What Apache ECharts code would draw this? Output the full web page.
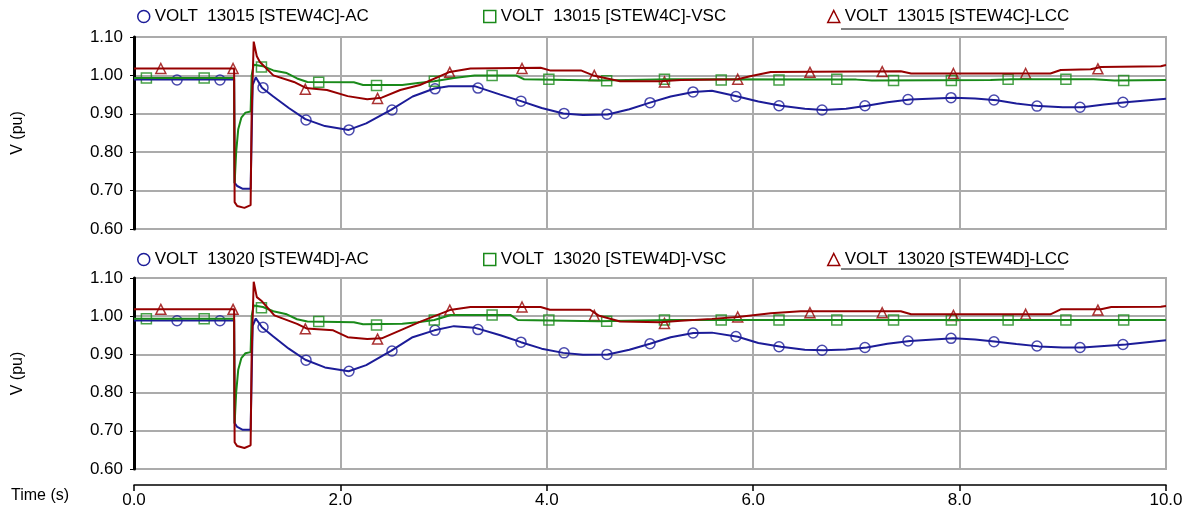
<!DOCTYPE html>
<html>
<head>
<meta charset="utf-8">
<script src="https://cdn.jsdelivr.net/npm/echarts@6/dist/echarts.min.js"></script>
<style>
  html, body { margin: 0; padding: 0; background: #fff; }
  #main { width: 1186px; height: 510px; }
</style>
</head>
<body>
<div id="main"></div>
<script>
// 曲线数据 [时间 s, 电压 pu]
var acTop = [[0,0.989],[0.97,0.989],[0.975,0.72],[1.0,0.712],[1.05,0.705],[1.13,0.705],[1.15,0.975],[1.18,0.995],[1.24,0.968],[1.35,0.945],[1.5,0.915],[1.66,0.886],[1.85,0.868],[2.08,0.858],[2.25,0.875],[2.49,0.91],[2.7,0.945],[2.91,0.966],[3.05,0.972],[3.3,0.972],[3.55,0.95],[3.75,0.933],[3.95,0.915],[4.16,0.901],[4.35,0.897],[4.59,0.898],[4.8,0.912],[5.0,0.929],[5.2,0.945],[5.42,0.957],[5.6,0.96],[5.85,0.945],[6.05,0.932],[6.27,0.921],[6.5,0.913],[6.68,0.91],[6.9,0.913],[7.1,0.921],[7.3,0.93],[7.52,0.937],[7.94,0.942],[8.15,0.94],[8.36,0.935],[8.55,0.927],[8.77,0.92],[9.0,0.917],[9.19,0.917],[9.4,0.924],[9.61,0.93],[10,0.939]];
var vscTop = [[0,0.993],[0.97,0.993],[0.975,0.72],[0.99,0.8],[1.01,0.86],[1.04,0.89],[1.08,0.903],[1.13,0.906],[1.14,1.0],[1.16,1.028],[1.25,1.024],[1.35,1.013],[1.48,1.006],[1.58,0.992],[1.68,0.983],[2.13,0.982],[2.22,0.975],[2.6,0.975],[2.75,0.98],[2.91,0.985],[3.1,0.993],[3.3,1.0],[3.7,1.0],[3.78,0.99],[4.5,0.987],[5.2,0.99],[7.0,0.989],[7.15,0.987],[8.3,0.988],[8.5,0.99],[9.3,0.99],[9.5,0.987],[10,0.988]];
var lccTop = [[0,1.018],[0.97,1.018],[0.975,0.67],[1.0,0.66],[1.07,0.655],[1.13,0.662],[1.14,0.9],[1.16,1.088],[1.19,1.05],[1.22,1.035],[1.35,1.0],[1.55,0.983],[1.67,0.967],[1.87,0.962],[2.07,0.946],[2.26,0.938],[2.4,0.942],[2.58,0.962],[2.77,0.975],[3.06,1.009],[3.26,1.018],[3.94,1.02],[4.03,1.013],[4.33,1.013],[4.45,1.0],[4.71,0.985],[5.1,0.985],[5.3,0.988],[5.85,0.99],[5.97,0.998],[6.17,1.009],[7.43,1.011],[7.53,1.005],[8.88,1.005],[8.98,1.014],[9.27,1.016],[9.37,1.022],[9.95,1.024],[10,1.027]];

var acBot = [[0,0.989],[0.97,0.989],[0.975,0.72],[1.0,0.71],[1.05,0.703],[1.13,0.703],[1.15,0.975],[1.18,0.994],[1.24,0.971],[1.35,0.947],[1.5,0.915],[1.66,0.886],[1.85,0.866],[2.08,0.856],[2.25,0.872],[2.49,0.909],[2.7,0.945],[2.91,0.963],[3.1,0.974],[3.3,0.97],[3.55,0.95],[3.75,0.932],[3.95,0.915],[4.16,0.904],[4.35,0.899],[4.59,0.9],[4.8,0.912],[5.0,0.928],[5.2,0.945],[5.42,0.956],[5.6,0.957],[5.85,0.946],[6.05,0.93],[6.27,0.92],[6.5,0.912],[6.68,0.911],[6.9,0.913],[7.1,0.918],[7.3,0.928],[7.52,0.935],[7.94,0.942],[8.15,0.939],[8.36,0.933],[8.55,0.927],[8.77,0.921],[9.0,0.918],[9.19,0.918],[9.4,0.922],[9.61,0.926],[10,0.937]];
var vscBot = [[0,0.993],[0.97,0.993],[0.975,0.72],[0.99,0.8],[1.01,0.86],[1.04,0.89],[1.08,0.903],[1.13,0.906],[1.14,1.0],[1.16,1.028],[1.25,1.024],[1.35,1.013],[1.48,1.005],[1.58,0.992],[1.68,0.986],[2.13,0.984],[2.22,0.979],[2.6,0.98],[2.75,0.984],[2.91,0.99],[3.07,1.003],[3.65,1.003],[3.72,0.99],[4.5,0.987],[5.2,0.99],[10,0.99]];
var lccBot = [[0,1.018],[0.97,1.018],[0.975,0.67],[1.0,0.66],[1.07,0.655],[1.13,0.662],[1.14,0.9],[1.16,1.09],[1.19,1.05],[1.24,1.039],[1.36,1.002],[1.58,0.98],[1.67,0.968],[1.93,0.963],[2.07,0.945],[2.26,0.94],[2.4,0.942],[2.58,0.963],[2.77,0.985],[3.06,1.016],[3.26,1.024],[3.94,1.024],[4.03,1.017],[4.42,1.017],[4.5,1.002],[4.71,0.986],[5.1,0.984],[5.3,0.988],[5.6,0.993],[5.85,0.998],[6.17,1.008],[6.46,1.013],[7.43,1.013],[7.53,1.005],[8.88,1.005],[8.98,1.018],[9.37,1.018],[9.47,1.024],[9.95,1.025],[10,1.027]];

// 标记点
var acTopMarks = [[0.417,0.988],[0.833,0.988],[1.25,0.968],[1.667,0.884],[2.083,0.858],[2.5,0.91],[2.917,0.965],[3.333,0.967],[3.75,0.933],[4.167,0.901],[4.583,0.899],[5.0,0.929],[5.417,0.957],[5.833,0.945],[6.25,0.921],[6.667,0.91],[7.083,0.921],[7.5,0.937],[7.917,0.942],[8.333,0.936],[8.75,0.92],[9.167,0.917],[9.583,0.93]];
var vscTopMarks = [[0.12,0.993],[0.68,0.993],[1.235,1.022],[1.79,0.982],[2.35,0.974],[2.91,0.985],[3.47,1.0],[4.02,0.99],[4.58,0.986],[5.14,0.99],[5.69,0.988],[6.25,0.988],[6.81,0.99],[7.36,0.987],[7.92,0.987],[8.47,0.99],[9.03,0.99],[9.59,0.987]];
var lccTopMarks = [[0.26,1.018],[0.96,1.018],[1.66,0.964],[2.36,0.94],[3.06,1.008],[3.76,1.018],[4.46,1.0],[5.14,0.983],[5.85,0.99],[6.55,1.008],[7.25,1.01],[7.94,1.005],[8.64,1.005],[9.34,1.017]];

var acBotMarks = [[0.417,0.988],[0.833,0.988],[1.25,0.971],[1.667,0.885],[2.083,0.856],[2.5,0.909],[2.917,0.963],[3.333,0.965],[3.75,0.932],[4.167,0.904],[4.583,0.9],[5.0,0.928],[5.417,0.956],[5.833,0.947],[6.25,0.92],[6.667,0.911],[7.083,0.918],[7.5,0.935],[7.917,0.942],[8.333,0.933],[8.75,0.922],[9.167,0.918],[9.583,0.926]];
var vscBotMarks = [[0.12,0.993],[0.68,0.993],[1.235,1.022],[1.79,0.986],[2.35,0.977],[2.91,0.99],[3.47,1.003],[4.02,0.99],[4.58,0.987],[5.14,0.99],[5.69,0.99],[6.25,0.99],[6.81,0.99],[7.36,0.99],[7.92,0.99],[8.47,0.99],[9.03,0.99],[9.59,0.99]];
var lccBotMarks = [[0.26,1.018],[0.96,1.018],[1.66,0.967],[2.36,0.94],[3.06,1.016],[3.76,1.024],[4.46,1.002],[5.14,0.981],[5.85,0.998],[6.55,1.009],[7.25,1.009],[7.94,1.002],[8.64,1.005],[9.34,1.016]];

var namesTop = ['VOLT  13015 [STEW4C]-AC', 'VOLT  13015 [STEW4C]-VSC', 'VOLT  13015 [STEW4C]-LCC'];
var namesBot = ['VOLT  13020 [STEW4D]-AC', 'VOLT  13020 [STEW4D]-VSC', 'VOLT  13020 [STEW4D]-LCC'];
var colors = ['#1c1c98', '#1a8a1a', '#960000'];
var symbols = ['circle', 'rect', 'triangle'];

var FONT = "'Liberation Sans', Arial, sans-serif";
var GRIDC = '#ababab';

function xAx(idx, showLabel) {
  return {
    type: 'value', gridIndex: idx, min: 0, max: 10, interval: 2,
    offset: showLabel ? 16 : 0,
    axisLine: { show: showLabel, onZero: false, lineStyle: { color: '#000', width: 1.5 } },
    axisTick: { show: showLabel, length: 6, lineStyle: { color: '#000', width: 1.5 } },
    axisLabel: { show: showLabel, color: '#000', fontSize: 17, fontFamily: FONT, margin: 7,
      formatter: function (v) { return v.toFixed(1); } },
    splitLine: { show: true, lineStyle: { color: GRIDC, width: 2 } }
  };
}
function yAx(idx) {
  return {
    type: 'value', gridIndex: idx, min: 0.6, max: 1.1, interval: 0.1,
    name: 'V (pu)', nameLocation: 'middle', nameGap: 108, nameRotate: 90,
    nameTextStyle: { color: '#000', fontSize: 16, fontFamily: FONT },
    axisLine: { show: true, onZero: false, lineStyle: { color: '#000', width: 3 } },
    axisTick: { show: true, length: 4, lineStyle: { color: '#000', width: 1 } },
    axisLabel: { color: '#000', fontSize: 17, fontFamily: FONT, margin: 11,
      formatter: function (v) { return v.toFixed(2); } },
    splitLine: { show: true, lineStyle: { color: GRIDC, width: 2 } }
  };
}

var legendLeft = [137, 483, 827];
var legends = [];
var series = [];
[[namesTop, 8, 0, [acTop, vscTop, lccTop], [acTopMarks, vscTopMarks, lccTopMarks]],
 [namesBot, 251, 1, [acBot, vscBot, lccBot], [acBotMarks, vscBotMarks, lccBotMarks]]].forEach(function (p) {
  var names = p[0];
  for (var i = 0; i < 3; i++) {
    legends.push({
      left: legendLeft[i], top: p[1], padding: 0, selectedMode: false,
      itemWidth: 12, itemHeight: 12,
      textStyle: { color: '#000', fontSize: 17, fontFamily: FONT },
      data: [{ name: names[i], icon: symbols[i],
        itemStyle: { color: '#fff', borderColor: colors[i], borderWidth: 1.5 } }]
    });
    series.push({
      name: names[i], type: 'line', xAxisIndex: p[2], yAxisIndex: p[2],
      data: p[3][i], showSymbol: false, symbol: 'none',
      lineStyle: { color: colors[i], width: 2 }, itemStyle: { color: colors[i] }
    });
    series.push({
      name: names[i], type: 'scatter', xAxisIndex: p[2], yAxisIndex: p[2],
      data: p[4][i], symbol: symbols[i], symbolSize: 10,
      itemStyle: { color: 'transparent', borderColor: colors[i], borderWidth: 1.5 }
    });
  }
});

var myChart = echarts.init(document.getElementById('main'));
var option = {
  animation: false,
  backgroundColor: '#fff',
  grid: [
    { left: 134, right: 20, top: 37, height: 192, show: true, borderColor: GRIDC, borderWidth: 2 },
    { left: 134, right: 20, top: 278, height: 191, show: true, borderColor: GRIDC, borderWidth: 2 }
  ],
  legend: legends,
  xAxis: [xAx(0, false), xAx(1, true)],
  yAxis: [yAx(0), yAx(1)],
  graphic: [
    { type: 'text', left: 11, top: 488, style: { text: 'Time (s)', fill: '#000', font: '16px ' + FONT } },
    { type: 'line', shape: { x1: 841, y1: 29, x2: 1064, y2: 29 }, style: { stroke: '#000', lineWidth: 1 } },
    { type: 'line', shape: { x1: 841, y1: 269, x2: 1064, y2: 269 }, style: { stroke: '#000', lineWidth: 1 } }
  ],
  series: series
};
myChart.setOption(option);
</script>
</body>
</html>
